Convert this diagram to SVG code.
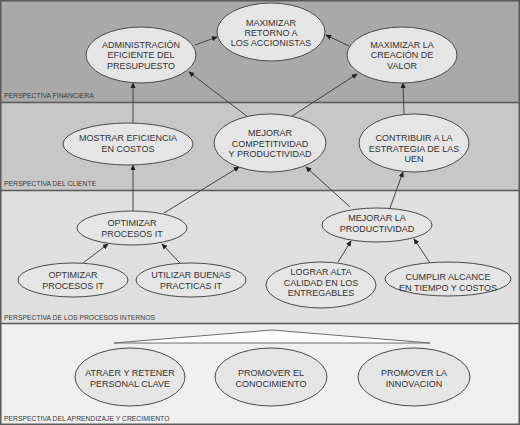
<svg xmlns="http://www.w3.org/2000/svg" width="520" height="425" viewBox="0 0 520 425">
<style>
.band-label{font-family:"Liberation Sans",Arial,sans-serif;font-size:6.8px;fill:#3a3a3a}
.node ellipse{fill:#e5e5e5;stroke:#4a4a4a;stroke-width:1}
.node text{font-family:"Liberation Sans",Arial,sans-serif;font-size:9px;fill:#333;text-anchor:middle}
.sep{stroke:#5a5a5a;stroke-width:1.5}
#connectors line{stroke:#444;stroke-width:1;marker-end:url(#arr)}
</style>
<defs>
<marker id="arr" viewBox="0 0 8 8" refX="7" refY="4" markerWidth="6" markerHeight="6" orient="auto" markerUnits="userSpaceOnUse">
<path d="M0,0.5 L8,4 L0,7.5 Z" fill="#222"/>
</marker>
</defs>
<g id="bands">
<rect x="0" y="0" width="520" height="102" fill="#a9a9a9"/>
<rect x="0" y="102" width="520" height="88" fill="#c7c7c7"/>
<rect x="0" y="190" width="520" height="133" fill="#dfdfdf"/>
<rect x="0" y="323" width="520" height="102" fill="#efefef"/>
<line class="sep" x1="0" y1="102.5" x2="520" y2="102.5"/>
<line class="sep" x1="0" y1="190.5" x2="520" y2="190.5"/>
<line class="sep" x1="0" y1="323.5" x2="520" y2="323.5"/>
<rect x="0.75" y="0.75" width="518.5" height="423.5" fill="none" stroke="#5a5a5a" stroke-width="1.5"/>
<text class="band-label" x="4" y="97.5">PERSPECTIVA FINANCIERA</text>
<text class="band-label" x="4" y="185.5">PERSPECTIVA DEL CLIENTE</text>
<text class="band-label" x="4" y="319.5">PERSPECTIVA DE LOS PROCESOS INTERNOS</text>
<text class="band-label" x="4" y="420.5">PERSPECTIVA DEL APRENDIZAJE Y CRECIMIENTO</text>
<polygon points="114,343 272,330 430,343" fill="#ffffff" stroke="#6a6a6a" stroke-width="1"/>
</g>
<g id="connectors">
<line x1="195" y1="45" x2="217" y2="37"/>
<line x1="349" y1="46" x2="326" y2="35"/>
<line x1="133" y1="123" x2="133" y2="83"/>
<line x1="248" y1="117" x2="189" y2="72"/>
<line x1="292" y1="116" x2="357" y2="74"/>
<line x1="404" y1="115" x2="403" y2="83"/>
<line x1="133" y1="212" x2="133" y2="165"/>
<line x1="164" y1="213" x2="239" y2="167"/>
<line x1="350" y1="207" x2="306" y2="167"/>
<line x1="390" y1="208" x2="403" y2="172"/>
<line x1="83" y1="263" x2="108" y2="244"/>
<line x1="180" y1="263" x2="162" y2="244"/>
<line x1="338" y1="262" x2="351" y2="241"/>
<line x1="430" y1="263" x2="414" y2="239"/>
</g>
<g id="n-admin" class="node"><ellipse cx="141" cy="55" rx="55" ry="28"/><text x="141" y="48">ADMINISTRACIÓN</text><text x="141" y="58">EFICIENTE DEL</text><text x="141" y="68.5">PRESUPUESTO</text></g>
<g id="n-retorno" class="node"><ellipse cx="271" cy="32" rx="54" ry="29"/><text x="271" y="26">MAXIMIZAR</text><text x="271" y="36">RETORNO A</text><text x="271" y="46">LOS ACCIONISTAS</text></g>
<g id="n-valor" class="node"><ellipse cx="402" cy="55" rx="55" ry="28"/><text x="402" y="47.5">MAXIMIZAR LA</text><text x="402" y="58">CREACIÓN DE</text><text x="402" y="68.5">VALOR</text></g>
<g id="n-mostrar" class="node"><ellipse cx="128" cy="144" rx="65" ry="21"/><text x="128" y="141">MOSTRAR EFICIENCIA</text><text x="128" y="152">EN COSTOS</text></g>
<g id="n-competitividad" class="node"><ellipse cx="270" cy="143" rx="56" ry="29"/><text x="270" y="136">MEJORAR</text><text x="270" y="146.5">COMPETITIVIDAD</text><text x="270" y="157">Y PRODUCTIVIDAD</text></g>
<g id="n-contribuir" class="node"><ellipse cx="414" cy="143" rx="55" ry="29"/><text x="414" y="141">CONTRIBUIR A LA</text><text x="414" y="151.5">ESTRATEGIA DE LAS</text><text x="414" y="162">UEN</text></g>
<g id="n-optimizar" class="node"><ellipse cx="132" cy="228" rx="55" ry="17"/><text x="132" y="226">OPTIMIZAR</text><text x="132" y="237">PROCESOS IT</text></g>
<g id="n-productividad" class="node"><ellipse cx="377" cy="225" rx="55" ry="17"/><text x="377" y="221">MEJORAR LA</text><text x="377" y="231.5">PRODUCTIVIDAD</text></g>
<g id="n-optimizar2" class="node"><ellipse cx="73" cy="280" rx="55" ry="17"/><text x="73" y="278">OPTIMIZAR</text><text x="73" y="289">PROCESOS IT</text></g>
<g id="n-utilizar" class="node"><ellipse cx="191" cy="280" rx="55" ry="17"/><text x="191" y="278">UTILIZAR BUENAS</text><text x="191" y="289">PRACTICAS IT</text></g>
<g id="n-lograr" class="node"><ellipse cx="321" cy="285" rx="55" ry="23"/><text x="321" y="275">LOGRAR ALTA</text><text x="321" y="285.5">CALIDAD EN LOS</text><text x="321" y="296">ENTREGABLES</text></g>
<g id="n-cumplir" class="node"><ellipse cx="448" cy="279" rx="63" ry="17"/><text x="448" y="280">CUMPLIR ALCANCE</text><text x="448" y="290.5">EN TIEMPO Y COSTOS</text></g>
<g id="n-atraer" class="node"><ellipse cx="130" cy="377" rx="55" ry="29"/><text x="130" y="376">ATRAER Y RETENER</text><text x="130" y="386.5">PERSONAL CLAVE</text></g>
<g id="n-conocimiento" class="node"><ellipse cx="271" cy="377" rx="56" ry="29"/><text x="271" y="376">PROMOVER EL</text><text x="271" y="386.5">CONOCIMIENTO</text></g>
<g id="n-innovacion" class="node"><ellipse cx="414" cy="377" rx="56" ry="29"/><text x="414" y="376">PROMOVER LA</text><text x="414" y="386.5">INNOVACION</text></g>
</svg>
